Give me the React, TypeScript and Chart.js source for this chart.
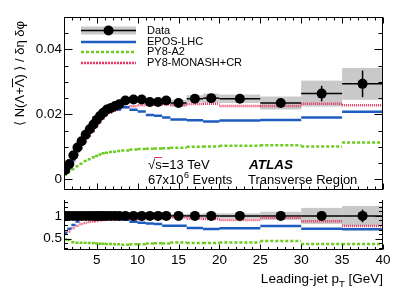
import React, { useEffect, useRef } from "react";
import { Chart, registerables } from "chart.js";
Chart.register(...registerables);

// ---------- data ----------
const binEdges = [1, 1.4, 1.9, 2.4, 2.9, 3.4, 3.9, 4.4, 4.8, 5.2, 5.6, 6.0, 6.5, 7.0, 7.5, 8, 9, 10, 11, 12, 13, 14, 16, 18, 20, 25, 30, 35, 40];
const binCenters = [1.15, 1.65, 2.15, 2.65, 3.15, 3.65, 4.15, 4.6, 5.0, 5.4, 5.8, 6.25, 6.75, 7.25, 7.75, 8.5, 9.5, 10.5, 11.5, 12.5, 13.5, 15, 17, 19, 22.5, 27.5, 32.5, 37.5];
const dataValues = [0.0029, 0.0047, 0.0074, 0.0098, 0.0117, 0.0137, 0.0154, 0.0169, 0.0183, 0.0195, 0.0205, 0.0215, 0.0220, 0.0226, 0.0231, 0.0243, 0.0246, 0.0246, 0.0238, 0.0238, 0.0243, 0.0235, 0.0248, 0.0250, 0.0248, 0.0235, 0.0264, 0.0294];
const dataStat = [0.0001, 0.0001, 0.0001, 0.0001, 0.0001, 0.0001, 0.0001, 0.0001, 0.0001, 0.0001, 0.0001, 0.0001, 0.0001, 0.0001, 0.0001, 0.0002, 0.0002, 0.0002, 0.0002, 0.0002, 0.0003, 0.0003, 0.0004, 0.0005, 0.0005, 0.0008, 0.0024, 0.0041];
const dataSyst = [0.0003, 0.0004, 0.0005, 0.0006, 0.0006, 0.0007, 0.0007, 0.0008, 0.0008, 0.0008, 0.0008, 0.0009, 0.0009, 0.0009, 0.0009, 0.0009, 0.0009, 0.0009, 0.0009, 0.0009, 0.0010, 0.0010, 0.0011, 0.0014, 0.0013, 0.0020, 0.0040, 0.0049];
const eposValues = [0.00183, 0.00338, 0.00592, 0.00862, 0.0110, 0.01343, 0.01555, 0.0174, 0.01885, 0.0201, 0.0209, 0.0215, 0.02156, 0.0217, 0.02148, 0.0222, 0.0214, 0.0209, 0.0198, 0.0196, 0.0190, 0.0184, 0.0182, 0.0178, 0.0181, 0.0183, 0.0190, 0.0208];
const a2Values = [0.0014, 0.0022, 0.0031, 0.0040, 0.0048, 0.0056, 0.0062, 0.0068, 0.0072, 0.0076, 0.0080, 0.0082, 0.0084, 0.0085, 0.0087, 0.0089, 0.0092, 0.0093, 0.0094, 0.0095, 0.0096, 0.0097, 0.0100, 0.0101, 0.0103, 0.0105, 0.0101, 0.0113];
const monashValues = [0.0018, 0.0031, 0.0054, 0.0077, 0.0096, 0.0116, 0.0133, 0.0148, 0.0163, 0.0176, 0.0187, 0.0198, 0.0205, 0.0211, 0.0215, 0.0222, 0.0225, 0.0228, 0.0229, 0.0230, 0.0231, 0.0228, 0.0232, 0.0233, 0.0226, 0.0226, 0.0233, 0.0228];

const xTickValues = [5, 10, 15, 20, 25, 30, 35, 40];
const yTopTickValues = [0, 0.02, 0.04];
const yTopTickLabels = ["0", "0.02", "0.04"];
const yRatioTickValues = [0.5, 1];
const yRatioTickLabels = ["0.5", "1"];
const legendLabels = ["Data", "EPOS-LHC", "PY8-A2", "PY8-MONASH+CR"];

const FONT = '"Liberation Sans", Arial, "DejaVu Sans", sans-serif';
const C_EPOS = "#1f5cbf";
const C_A2 = "#6ccc1c";
const C_MONASH = "#e5345f";
const C_BAND = "#c9c9c9";
const MARKER_R = 5;

const ratio = (vals: number[]) => vals.map((v, i) => v / dataValues[i]);
const totErr = dataStat.map((s, i) => Math.sqrt(s * s + dataSyst[i] * dataSyst[i]));

function stepData(values: number[]) {
  const pts: any[] = [];
  values.forEach((v, i) => {
    pts.push({ x: binEdges[i], y: v });
    pts.push({ x: binEdges[i + 1], y: v });
    pts.push({ x: binEdges[i + 1], y: null });
  });
  return pts;
}

function seg(ctx: CanvasRenderingContext2D, x0: number, y0: number, x1: number, y1: number) {
  ctx.beginPath();
  ctx.moveTo(x0, y0);
  ctx.lineTo(x1, y1);
  ctx.stroke();
}

function mcDatasets(eps: number[], a2: number[], mon: number[], yAxisID: string) {
  return [
    { label: "EPOS-LHC", data: stepData(eps), borderColor: C_EPOS, borderWidth: 2.5, pointRadius: 0, spanGaps: false, order: 1, yAxisID },
    { label: "PY8-A2", data: stepData(a2), borderColor: C_A2, borderWidth: 2.5, borderDash: [3, 2], pointRadius: 0, spanGaps: false, order: 2, yAxisID },
    { label: "PY8-MONASH+CR", data: stepData(mon), borderColor: C_MONASH, borderWidth: 2.5, borderDash: [1, 1], pointRadius: 0, spanGaps: false, order: 3, yAxisID },
  ];
}

function bandPlugin(mode: "top" | "ratio") {
  return {
    id: "bands_" + mode,
    beforeDatasetsDraw(chart: any) {
      const { ctx, chartArea: a, scales } = chart;
      const x = scales.x;
      const y = mode === "top" ? scales.y : scales.yr;
      ctx.save();
      ctx.beginPath();
      ctx.rect(a.left, a.top, a.right - a.left, a.bottom - a.top);
      ctx.clip();
      ctx.fillStyle = C_BAND;
      for (let i = 0; i < dataValues.length; i++) {
        const c = mode === "top" ? dataValues[i] : 1;
        const e = mode === "top" ? dataSyst[i] : totErr[i] / dataValues[i];
        const x0 = x.getPixelForValue(binEdges[i]);
        const x1 = x.getPixelForValue(binEdges[i + 1]);
        const y0 = y.getPixelForValue(c + e);
        const y1 = y.getPixelForValue(c - e);
        ctx.fillRect(x0, y0, x1 - x0, y1 - y0);
      }
      ctx.strokeStyle = "#000";
      ctx.lineWidth = 1.5;
      for (let i = 0; i < dataValues.length; i++) {
        const c = mode === "top" ? dataValues[i] : 1;
        const e = mode === "top" ? dataStat[i] : dataStat[i] / dataValues[i];
        const x0 = x.getPixelForValue(binEdges[i]);
        const x1 = x.getPixelForValue(binEdges[i + 1]);
        const xc = x.getPixelForValue(binCenters[i]);
        const yc = y.getPixelForValue(c);
        seg(ctx, x0, yc, x1, yc);
        seg(ctx, xc, y.getPixelForValue(c - e), xc, y.getPixelForValue(c + e));
      }
      ctx.restore();
    },
  };
}

const topFramePlugin = {
  id: "topFrame",
  afterDraw(chart: any) {
    const { ctx, chartArea: a, scales } = chart;
    const x = scales.x, y = scales.y;
    ctx.save();
    ctx.strokeStyle = "#000";
    ctx.lineWidth = 1;
    const L = a.left + 0.5, R = a.right - 0.5, T = a.top + 0.5, B = a.bottom - 0.5;
    ctx.strokeRect(L, T, R - L, B - T);
    for (let v = 1; v <= 40; v++) {
      const px = Math.round(x.getPixelForValue(v)) + 0.5;
      const len = v % 5 === 0 ? 6 : 3;
      seg(ctx, px, B, px, B - len);
      seg(ctx, px, T, px, T + len);
    }
    for (let k = 0; k <= 10; k++) {
      const v = k * 0.005;
      const py = Math.round(y.getPixelForValue(v)) + 0.5;
      const len = k % 4 === 0 ? 8 : 4;
      seg(ctx, L, py, L + len, py);
      seg(ctx, R, py, R - len, py);
    }
    ctx.fillStyle = "#000";
    ctx.font = `13.5px ${FONT}`;
    ctx.textAlign = "right";
    ctx.textBaseline = "middle";
    yTopTickValues.forEach((v, i) => ctx.fillText(yTopTickLabels[i], 62, y.getPixelForValue(v)));

    // y title
    ctx.save();
    ctx.translate(20, 21);
    ctx.rotate(-Math.PI / 2);
    ctx.font = `13px ${FONT}`;
    ctx.textAlign = "right";
    ctx.textBaseline = "middle";
    const title = "\u27E8 N(\u039B+\u039B) \u27E9 / \u03B4\u03B7 \u03B4\u03C6";
    ctx.fillText(title, 0, 0);
    const w = ctx.measureText(title).width;
    const pre = ctx.measureText("\u27E8 N(\u039B+").width;
    const lw = ctx.measureText("\u039B").width;
    ctx.lineWidth = 1;
    seg(ctx, -w + pre, -7.5, -w + pre + lw, -7.5);
    ctx.restore();

    // legend
    const lx0 = 81, lx1 = 136, tx = 147;
    const rows = [30.5, 42, 52, 63];
    ctx.fillStyle = C_BAND;
    ctx.fillRect(lx0, rows[0] - 4, lx1 - lx0, 8);
    ctx.strokeStyle = "#000";
    ctx.lineWidth = 1.5;
    seg(ctx, lx0, rows[0], lx1, rows[0]);
    ctx.fillStyle = "#000";
    ctx.beginPath();
    ctx.arc((lx0 + lx1) / 2, rows[0], MARKER_R, 0, Math.PI * 2);
    ctx.fill();
    ctx.lineWidth = 2.5;
    ctx.strokeStyle = C_EPOS;
    seg(ctx, lx0, rows[1], lx1, rows[1]);
    ctx.strokeStyle = C_A2;
    ctx.setLineDash([3, 2]);
    seg(ctx, lx0, rows[2], lx1, rows[2]);
    ctx.strokeStyle = C_MONASH;
    ctx.setLineDash([2, 1]);
    seg(ctx, lx0, rows[3], lx1, rows[3]);
    ctx.setLineDash([]);
    ctx.fillStyle = "#000";
    ctx.font = `11px ${FONT}`;
    ctx.textAlign = "left";
    ctx.textBaseline = "middle";
    legendLabels.forEach((t, i) => ctx.fillText(t, tx, i === 0 ? 30.5 : rows[i]));

    // annotations
    ctx.font = `13px ${FONT}`;
    const s1 = "\u221As=13 TeV";
    ctx.fillText(s1, 148, 165);
    const wr = ctx.measureText("\u221A").width;
    const ws = ctx.measureText("s").width;
    ctx.lineWidth = 1;
    seg(ctx, 148 + wr - 1, 157.5, 148 + wr + ws + 0.5, 157.5);
    const p1 = "67x10";
    ctx.fillText(p1, 148, 180.5);
    let cx = 148 + ctx.measureText(p1).width;
    ctx.font = `9px ${FONT}`;
    ctx.fillText("6", cx + 0.5, 175.5);
    cx += ctx.measureText("6").width + 0.5;
    ctx.font = `13px ${FONT}`;
    ctx.fillText(" Events", cx, 180.5);
    ctx.font = `italic bold 13.5px ${FONT}`;
    ctx.fillText("ATLAS", 249, 165);
    ctx.font = `13px ${FONT}`;
    ctx.fillText("Transverse Region", 248, 180.5);
    ctx.restore();
  },
};

const ratioFramePlugin = {
  id: "ratioFrame",
  afterDraw(chart: any) {
    const { ctx, chartArea: a, scales } = chart;
    const x = scales.x, y = scales.yr;
    ctx.save();
    ctx.strokeStyle = "#000";
    ctx.lineWidth = 1;
    const L = a.left + 0.5, R = a.right - 0.5, T = a.top, B = a.bottom - 0.5;
    seg(ctx, L, T, L, B);
    seg(ctx, R, T, R, B);
    seg(ctx, L, B, R, B);
    for (let v = 1; v <= 40; v++) {
      const px = Math.round(x.getPixelForValue(v)) + 0.5;
      const len = v % 5 === 0 ? 5 : 2.5;
      seg(ctx, px, B, px, B - len);
    }
    for (let k = 3; k <= 13; k++) {
      const v = k / 10;
      const py = Math.round(y.getPixelForValue(v)) + 0.5;
      const len = k % 5 === 0 ? 7 : 3.5;
      seg(ctx, L, py, L + len, py);
      seg(ctx, R, py, R - len, py);
    }
    ctx.fillStyle = "#000";
    ctx.font = `13.5px ${FONT}`;
    ctx.textAlign = "right";
    ctx.textBaseline = "middle";
    yRatioTickValues.forEach((v, i) => ctx.fillText(yRatioTickLabels[i], 62, y.getPixelForValue(v)));
    ctx.textAlign = "center";
    xTickValues.forEach((v) => ctx.fillText(String(v), x.getPixelForValue(v), a.bottom + 10));

    // x title
    ctx.textAlign = "left";
    const f1 = `13.5px ${FONT}`, f2 = `9.5px ${FONT}`;
    ctx.font = f1;
    const w1 = ctx.measureText("Leading-jet p").width;
    const w3 = ctx.measureText(" [GeV]").width;
    ctx.font = f2;
    const w2 = ctx.measureText("T").width;
    let sx = a.right - (w1 + w2 + w3);
    const ty = a.bottom + 29.5;
    ctx.font = f1;
    ctx.fillText("Leading-jet p", sx, ty);
    sx += w1;
    ctx.font = f2;
    ctx.fillText("T", sx, ty + 5);
    sx += w2;
    ctx.font = f1;
    ctx.fillText(" [GeV]", sx, ty);

    // y title
    ctx.save();
    ctx.translate(20, 221);
    ctx.rotate(-Math.PI / 2);
    ctx.font = `13.5px ${FONT}`;
    ctx.textAlign = "center";
    ctx.textBaseline = "middle";
    ctx.fillText("MC/Data", 0, 0);
    ctx.restore();
    ctx.restore();
  },
};

export default function App() {
  const topRef = useRef<HTMLCanvasElement | null>(null);
  const ratioRef = useRef<HTMLCanvasElement | null>(null);

  useEffect(() => {
    const topChart = new Chart(topRef.current as HTMLCanvasElement, {
      type: "line",
      data: {
        datasets: [
          {
            type: "scatter",
            label: "Data",
            data: binCenters.map((x, i) => ({ x, y: dataValues[i] })),
            pointRadius: MARKER_R,
            pointBackgroundColor: "#000",
            pointBorderColor: "#000",
            pointBorderWidth: 0,
            order: 0,
          } as any,
          ...mcDatasets(eposValues, a2Values, monashValues, "y"),
        ],
      },
      options: {
        animation: false,
        responsive: false,
        events: [],
        layout: { padding: { left: 64, right: 16, top: 17, bottom: 0 } },
        scales: {
          x: { type: "linear", min: 1, max: 40, display: false },
          y: { type: "linear", min: -0.0033, max: 0.05, display: false },
        },
        plugins: { legend: { display: false }, tooltip: { enabled: false } },
      },
      plugins: [bandPlugin("top"), topFramePlugin],
    });

    const ratioChart = new Chart(ratioRef.current as HTMLCanvasElement, {
      type: "line",
      data: {
        datasets: [
          {
            type: "scatter",
            label: "Data",
            data: binCenters.map((x) => ({ x, y: 1 })),
            pointRadius: MARKER_R,
            pointBackgroundColor: "#000",
            pointBorderColor: "#000",
            pointBorderWidth: 0,
            order: 0,
            yAxisID: "yr",
          } as any,
          ...mcDatasets(ratio(eposValues), ratio(a2Values), ratio(monashValues), "yr"),
        ],
      },
      options: {
        animation: false,
        responsive: false,
        events: [],
        layout: { padding: { left: 64, right: 16, top: 0, bottom: 49 } },
        scales: {
          x: { type: "linear", min: 1, max: 40, display: false },
          yr: { type: "linear", position: "left", min: 0.25, max: 1.35, display: false },
        },
        plugins: { legend: { display: false }, tooltip: { enabled: false } },
      },
      plugins: [bandPlugin("ratio"), ratioFramePlugin],
    });

    return () => {
      topChart.destroy();
      ratioChart.destroy();
    };
  }, []);

  return (
    <div style={{ position: "fixed", left: 0, top: 0, width: 399, height: 299, background: "#fff" }}>
      <canvas ref={topRef} width={399} height={195} style={{ position: "absolute", left: 0, top: 0, width: 399, height: 195 }} />
      <canvas ref={ratioRef} width={399} height={104} style={{ position: "absolute", left: 0, top: 195, width: 399, height: 104 }} />
    </div>
  );
}
